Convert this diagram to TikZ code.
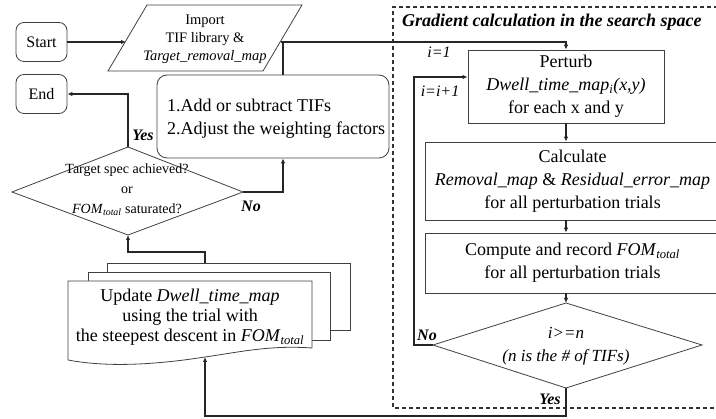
\documentclass[tikz,border=0pt]{standalone}
\usepackage{fontspec}
\setmainfont{Liberation Serif}
\usetikzlibrary{arrows.meta,calc}

\tikzset{
  boxline/.style={draw=black!75, line width=0.8pt},
  term/.style={boxline, rounded corners=8pt, minimum width=51pt, minimum height=39pt,
    inner sep=0pt, font=\fontsize{16}{18}\selectfont},
  stepbox/.style={boxline, inner sep=0pt, align=center,
    font=\fontsize{18}{23}\selectfont},
  conn/.style={draw=black!85, line width=1.3pt},
  arr/.style={conn, -{Latex[length=5pt,width=4.5pt]}},
  lbl/.style={inner sep=0pt, font=\fontsize{16}{18}\selectfont\itshape},
  yesno/.style={inner sep=0pt, font=\fontsize{16}{18}\selectfont\bfseries\itshape},
  plain/.style={inner sep=0pt, align=center},
}

\begin{document}
\begin{tikzpicture}[x=1pt,y=-1pt]
\useasboundingbox (0,0) rectangle (716,419);

% dashed frame of the gradient loop (right side runs off the page)
\draw[draw=black!80, line width=1.2pt, dash pattern=on 4pt off 3pt]
  (725,7) -- (393,7) -- (393,408) -- (725,408);
\node[anchor=west, inner sep=0pt, font=\fontsize{18}{20}\selectfont\bfseries\itshape]
  (title) at (402,22) {Gradient calculation in the search space};

% terminals
\node[term] (start) at (41.5,42) {Start};
\node[term] (end) at (41.5,94) {End};

% input parallelogram
\coordinate (pTL) at (147,5);
\coordinate (pTR) at (302,5);
\coordinate (pBR) at (263,71);
\coordinate (pBL) at (108,71);
\draw[boxline] (pTL) -- (pTR) -- (pBR) -- (pBL) -- cycle;
\node[plain, font=\fontsize{14.5}{18}\selectfont] (imp) at (205,39)
  {Import\\TIF library \&\\\textit{Target\_removal\_map}};
\coordinate (impIn) at (126,42);
\coordinate (impOut) at (281,42);

% adjustment box
\node[boxline, rounded corners=10pt, minimum width=232pt, minimum height=83pt,
  inner sep=0pt] (adj) at (273,116.5) {};
\node[anchor=west, inner sep=0pt, align=left, font=\fontsize{18}{23}\selectfont]
  (adjtext) at (167,118.5) {1.Add or subtract TIFs\\2.Adjust the weighting factors};

% first decision
\coordinate (d1t) at (128,147);
\coordinate (d1l) at (12,192);
\coordinate (d1r) at (243,192);
\coordinate (d1b) at (128,235);
\draw[boxline] (d1t) -- (d1r) -- (d1b) -- (d1l) -- cycle;
\node[plain, font=\fontsize{14}{20}\selectfont] (d1) at (127,190)
  {Target spec achieved?\\or\\\textit{FOM}\textsubscript{\textit{total}} saturated?};

% gradient loop steps
\node[stepbox, minimum width=196pt, minimum height=73pt] (pert) at (566,86.5)
  {Perturb\\\textit{Dwell\_time\_map\textsubscript{i}(x,y)}\\for each x and y};
\node[stepbox, minimum width=295pt, minimum height=78pt] (calc) at (572.5,181)
  {Calculate\\\textit{Removal\_map} \& \textit{Residual\_error\_map}\\for all perturbation trials};
\node[stepbox, minimum width=295pt, minimum height=60pt] (comp) at (572.5,263)
  {Compute and record \textit{FOM}\textsubscript{\textit{total}}\\for all perturbation trials};

% second decision
\coordinate (d2t) at (566,303);
\coordinate (d2l) at (433,345);
\coordinate (d2r) at (702,345);
\coordinate (d2b) at (566,388);
\draw[boxline] (d2t) -- (d2r) -- (d2b) -- (d2l) -- cycle;
\node[plain, font=\fontsize{17}{23}\selectfont\itshape] (d2) at (566,346)
  {i>=n\\(n is the \# of TIFs)};

% stacked documents
\draw[boxline] (330,330) -- (350,330) -- (350,263) -- (107,263) -- (107,272);
\draw[boxline] (312,340) -- (330,340) -- (330,272) -- (88,272) -- (88,281);
\draw[boxline, fill=white] (68,360) -- (68,281) -- (312,281) -- (312,348)
  .. controls (270,345) and (240,352) .. (205,357)
  .. controls (160,364) and (110,368) .. (68,360);
\node[plain, font=\fontsize{18}{20}\selectfont] (doc) at (190,317)
  {Update \textit{Dwell\_time\_map}\\using the trial with\\the steepest descent in \textit{FOM}\textsubscript{\textit{total}}};
\coordinate (docTop) at (205,263);
\coordinate (docBot) at (205,357);

% connectors
\draw[arr] (start.east) -- (impIn);
\draw[arr] (impOut) -- (566,42) -- (pert.north);
\draw[conn] (adj.north -| 283,0) -- (283,42);
\draw[arr] (d1r) -- (283,192) -- (adj.south -| 283,0);
\draw[arr] (d1t) -- (128,94) -- (end.east);
\draw[arr] (docTop) -- (205,252) -- (128,252) -- (d1b);
\draw[arr] (pert.south) -- (pert.south |- calc.north);
\draw[arr] (pert.south |- calc.south) -- (pert.south |- comp.north);
\draw[arr] (pert.south |- comp.south) -- (d2t);
\draw[arr] (d2l) -- (414,345) -- (414,77) -- (pert.west |- 0,77);
\draw[arr] (d2b) -- (566,416) -- (205,416) -- (docBot);

% branch labels
\node[lbl] (i1) at (439,52) {i=1};
\node[lbl] (iinc) at (440,91) {i=i+1};
\node[yesno] (no2) at (427,335) {No};
\node[yesno] (yes2) at (550,399) {Yes};
\node[yesno] (yes1) at (143,135) {Yes};
\node[yesno] (no1) at (251,206) {No};
\end{tikzpicture}
\end{document}
